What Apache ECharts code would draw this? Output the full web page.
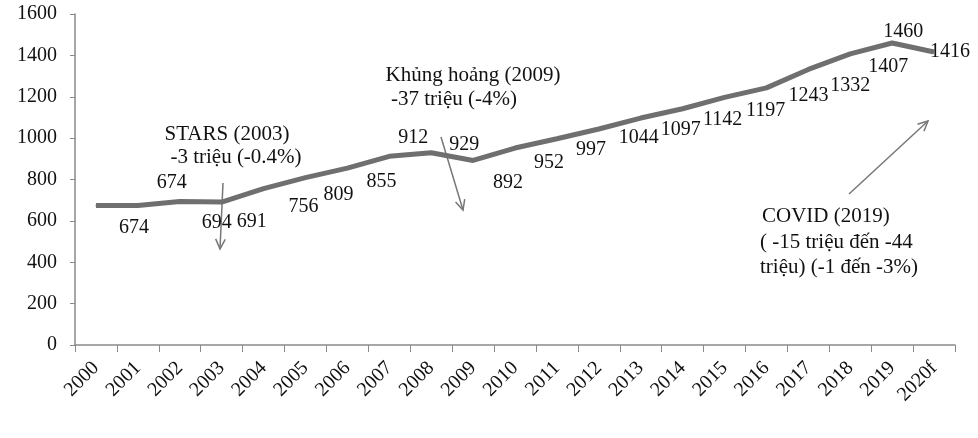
<!DOCTYPE html>
<html>
<head>
<meta charset="utf-8">
<script src="https://cdn.jsdelivr.net/npm/echarts@6/dist/echarts.min.js"></script>
<style>
  html, body { margin: 0; padding: 0; background: #fff; }
  #main { width: 978px; height: 438px; }
</style>
</head>
<body>
<div id="main"></div>
<script>
// số liệu
var years = ['2000', '2001', '2002', '2003', '2004', '2005', '2006', '2007', '2008', '2009', '2010',
    '2011', '2012', '2013', '2014', '2015', '2016', '2017', '2018', '2019', '2020f'];
var values = [674, 674, 694, 691, 756, 809, 855, 912, 929, 892, 952,
    997, 1044, 1097, 1142, 1197, 1243, 1332, 1407, 1460, 1416];
var yTicks = [0, 200, 400, 600, 800, 1000, 1200, 1400, 1600];

// vị trí nhãn (lệch so với điểm)
var labelOffsets = [
    [38, 22], [34, -23], [37, 21], [30, 20], [40, 18], [33, 17], [34, 14],
    [24, -19], [33, -8], [35, 22], [34, 15], [34, 11], [40, 9], [40, 12],
    [40, 11], [41, 13], [42, 8], [42, 16], [38, 13], [11, -11], [16, 0]
];

var font = '"Liberation Serif", "Times New Roman", serif';

function arrow(x1, y1, x2, y2) {
    var ang = Math.atan2(y2 - y1, x2 - x1);
    var len = 11, spread = 0.45;
    var a1 = [x2 - len * Math.cos(ang - spread), y2 - len * Math.sin(ang - spread)];
    var a2 = [x2 - len * Math.cos(ang + spread), y2 - len * Math.sin(ang + spread)];
    return [
        { type: 'line', shape: { x1: x1, y1: y1, x2: x2, y2: y2 }, style: { stroke: '#777', lineWidth: 1.5 } },
        { type: 'polyline', shape: { points: [a1, [x2, y2], a2] }, style: { stroke: '#777', lineWidth: 1.5, fill: null } }
    ];
}

function note(text, x, y, align) {
    return {
        type: 'text', x: x, y: y,
        style: { text: text, font: '21px ' + font, fill: '#111', textAlign: align || 'center', textVerticalAlign: 'middle' }
    };
}

var seriesData = [];
for (var i = 0; i < values.length; i++) {
    seriesData.push({ value: values[i], label: { offset: labelOffsets[i] } });
}

var myChart = echarts.init(document.getElementById('main'));
var option = {
    animation: false,
    grid: { left: 75, right: 23, top: 14, bottom: 93 },
    xAxis: {
        type: 'category',
        data: years,
        boundaryGap: true,
        axisLine: { lineStyle: { color: '#8a8a8a', width: 1.5 } },
        axisTick: { show: true, length: 7, lineStyle: { color: '#8a8a8a' } },
        axisLabel: { rotate: 45, fontFamily: font, fontSize: 20, color: '#111', margin: 20, interval: 0 }
    },
    yAxis: {
        type: 'value',
        min: yTicks[0],
        max: yTicks[yTicks.length - 1],
        interval: 200,
        splitLine: { show: false },
        axisLine: { show: true, lineStyle: { color: '#8a8a8a', width: 1.5 } },
        axisTick: { show: true, length: 5, lineStyle: { color: '#8a8a8a' } },
        axisLabel: {
            fontFamily: font, fontSize: 20, color: '#111', margin: 18,
            formatter: function (v) { return String(v); }
        }
    },
    series: [{
        type: 'line',
        data: seriesData,
        symbol: 'circle',
        symbolSize: 1,
        showSymbol: true,
        itemStyle: { color: '#6f6f6f' },
        lineStyle: { color: '#6f6f6f', width: 5 },
        label: {
            show: true,
            position: 'inside',
            fontFamily: font,
            fontSize: 20,
            color: '#111'
        }
    }],
    graphic: [
        note('STARS (2003)', 227, 134),
        note('-3 triệu (-0.4%)', 236, 157),
        note('Khủng hoảng (2009)', 473, 75),
        note('-37 triệu (-4%)', 454, 99),
        note('COVID (2019)', 762, 216, 'left'),
        note('( -15 triệu đến -44', 760, 242, 'left'),
        note('triệu) (-1 đến -3%)', 760, 267, 'left')
    ].concat(arrow(223, 183, 220, 249))
     .concat(arrow(441, 137, 463, 210))
     .concat(arrow(849, 194, 928, 121))
};
myChart.setOption(option, true);
</script>
</body>
</html>
